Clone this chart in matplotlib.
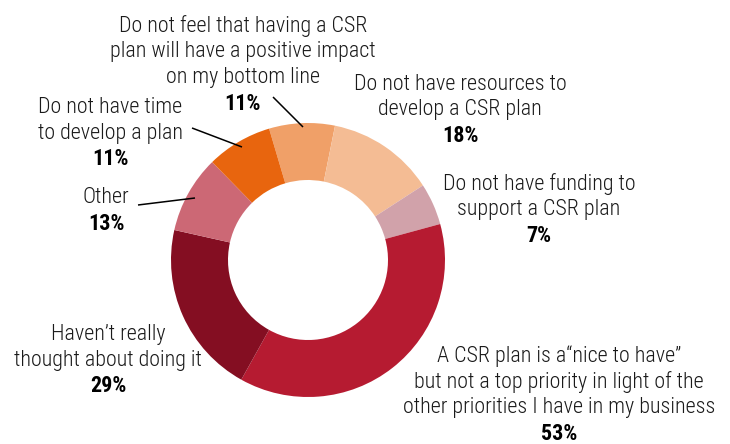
import matplotlib
matplotlib.use('Agg')
import matplotlib.pyplot as plt

# survey answers, clockwise from the top of the ring
labels = [
    ['Do not feel that having a CSR', 'plan will have a positive impact', 'on my bottom line'],
    ['Do not have resources to', 'develop a CSR plan'],
    ['Do not have funding to', 'support a CSR plan'],
    ['A CSR plan is a\u201cnice to have\u201d', 'but not a top priority in light of the',
     'other priorities I have in my business'],
    ['Haven\u2019t really', 'thought about doing it'],
    ['Other'],
    ['Do not have time', 'to develop a plan'],
]
pcts = [11, 18, 7, 53, 29, 13, 11]
colors = ['#F0A068', '#F4BC94', '#D1A2AA', '#B61B31', '#840E22', '#CC6875', '#E8650E']

# where each text block sits (x centre, first baseline), in pixels from top-left
label_pos = [(243, 32), (460, 90), (539, 190), (559, 362), (108, 340), (106, 203), (110, 113)]
# leader lines (start, end) for the labels that have one
leaders = {0: ((273, 97), (303, 127)), 6: ((192, 128), (242, 147)), 5: ((138, 205), (195, 198))}

W, H = 730, 444
plt.rcParams['font.family'] = ['Roboto Condensed', 'Barlow Condensed', 'DejaVu Sans']

fig = plt.figure(figsize=(W / 100, H / 100), dpi=100)
ax = fig.add_axes([0, 0, 1, 1])
ax.set_xlim(0, W)
ax.set_ylim(0, H)
ax.axis('off')

R = 137
ax.pie(pcts, colors=colors, startangle=106.5, counterclock=False,
       center=(308, H - 260), radius=R,
       wedgeprops=dict(width=57, linewidth=0))
ax.set_xlim(0, W)
ax.set_ylim(0, H)
ax.set_aspect('equal')

step = 25.5
for lines, p, (x, y0) in zip(labels, pcts, label_pos):
    for i, line in enumerate(lines):
        ax.text(x, H - (y0 + i * step), line, ha='center', va='baseline',
                fontsize=15.8, fontweight=300, color='#1a1a1a')
    ax.text(x, H - (y0 + len(lines) * step + 1), f'{p}%', ha='center', va='baseline',
            fontsize=15.8, fontweight='bold', color='black')

for (x0, y0), (x1, y1) in leaders.values():
    ax.plot([x0, x1], [H - y0, H - y1], color='black', lw=1.1, solid_capstyle='butt')

fig.savefig('out.png', dpi=100)
